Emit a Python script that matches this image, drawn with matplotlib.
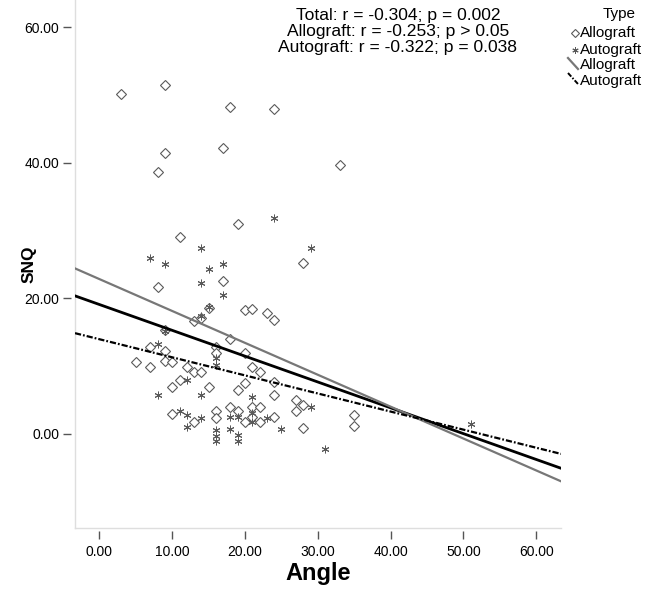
"""Scatter of SNQ against graft angle, split by graft type, with fit lines."""

import matplotlib
matplotlib.use("Agg")
import matplotlib.pyplot as plt
import numpy as np
from matplotlib.lines import Line2D

plt.rcParams["font.family"] = ["Liberation Sans", "DejaVu Sans"]

# values
allo_angle = [3, 9, 18, 24, 9, 17, 8, 33, 19, 11, 28, 8, 17, 15, 20, 21, 23, 24,
              13, 14, 9, 18, 7, 9, 16, 16, 20, 5, 7, 9, 10, 12, 13, 14, 21, 22,
              11, 10, 15, 20, 19, 24, 24, 27, 28, 27, 10, 13, 16, 16, 18, 19, 20,
              21, 21, 22, 22, 24, 28, 35, 35]
allo_snq = [50.1, 51.4, 48.2, 47.9, 41.5, 42.1, 38.6, 39.7, 31.0, 29.1, 25.2, 21.6,
            22.6, 18.6, 18.2, 18.4, 17.8, 16.8, 16.7, 17.1, 15.3, 14.0, 12.8, 12.2,
            12.8, 11.9, 11.9, 10.6, 9.8, 10.8, 10.6, 9.8, 9.1, 9.1, 9.8, 9.1, 8.0,
            6.9, 6.9, 7.5, 6.4, 7.6, 5.75, 5.0, 4.3, 3.3, 2.9, 1.7, 3.4, 2.3, 3.9,
            3.4, 1.8, 3.9, 2.55, 3.9, 1.8, 2.55, 0.8, 2.7, 1.1]

auto_angle = [24, 29, 14, 7, 9, 17, 15, 14, 17, 15, 14, 9, 8, 16, 16, 12, 8, 14,
              21, 11, 12, 12, 14, 16, 16, 16, 18, 18, 19, 19, 19, 21, 21, 23, 25,
              29, 31, 51]
auto_snq = [31.9, 27.4, 27.4, 25.9, 25.0, 25.1, 24.3, 22.3, 20.5, 18.7, 17.4, 15.1,
            13.3, 11.2, 10.2, 8.0, 5.65, 5.75, 5.5, 3.4, 2.7, 1.0, 2.3, 0.6, -0.4,
            -1.0, 2.55, 0.75, 2.55, -0.25, -1.0, 3.0, 1.8, 2.3, 0.75, 4.0, -2.2, 1.5]

fit_names = ["Total", "Allograft", "Autograft"]
fit_intercepts = [19.07, 22.82, 13.95]
fit_slopes = [-0.381, -0.4705, -0.2668]

stats_lines = [
    "Total: r = -0.304; p = 0.002",
    "Allograft: r = -0.253; p > 0.05",
    "Autograft: r = -0.322; p = 0.038",
]

x_ticks = [0, 10, 20, 30, 40, 50, 60]
y_ticks = [0, 20, 40, 60]

W, H = 660, 590
fig = plt.figure(figsize=(W / 100, H / 100), dpi=100)
ax = fig.add_axes([75 / W, 62 / H, 486 / W, 528 / H])
ax.set_xlim(-3.36, 63.4)
ax.set_ylim(-13.9, 64.0)

mark_col = "#5a5a5a"
ax.plot(allo_angle, allo_snq, linestyle="none", marker="D", ms=4.8,
        mfc="white", mec=mark_col, mew=0.8, zorder=3)
ax.plot(auto_angle, auto_snq, linestyle="none", marker=(6, 2, 0), ms=5.5,
        color=mark_col, mew=0.7, zorder=3)

# fit lines across the full x range
line_styles = {
    "Total": dict(color="black", lw=2.0, linestyle="-"),
    "Allograft": dict(color="#777777", lw=1.6, linestyle="-"),
    "Autograft": dict(color="black", lw=1.6, linestyle=(0, (2.8, 0.9, 0.8, 0.9))),
}
xs = np.array(ax.get_xlim())
for name, b0, b1 in zip(fit_names, fit_intercepts, fit_slopes):
    ax.plot(xs, b0 + b1 * xs, zorder=4, **line_styles[name])

# SPSS-like axes: faint frame, ticks set apart from it
for side in ["top", "right", "left", "bottom"]:
    ax.spines[side].set_visible(False)
ax.spines["left"].set_position(("outward", 3))
ax.spines["bottom"].set_position(("outward", 2))
ax.plot([0, 0], [0, 1], transform=ax.transAxes, color="#dedede", lw=1, clip_on=False)
ax.plot([0, 1], [0, 0], transform=ax.transAxes, color="#dedede", lw=1, clip_on=False)

ax.set_xticks(x_ticks)
ax.set_yticks(y_ticks)
ax.set_xticklabels([f"{t:.2f}" for t in x_ticks])
ax.set_yticklabels([f"{t:.2f}" for t in y_ticks])
ax.tick_params(length=6, width=1, color="#555555", labelsize=10, pad=2.5)
ax.tick_params(axis="x", pad=4)

ax.set_xlabel("Angle", fontsize=17, fontweight="bold")
ax.xaxis.set_label_coords(0.5, -0.087)
ax.xaxis.label.set_va("center")
ax.set_ylabel("SNQ", fontsize=12.5, fontweight="bold")
ax.yaxis.set_label_coords(-0.095, 0.5)
ax.yaxis.label.set_va("center")

fig.text(398 / W, 1 - 31.5 / H, "\n".join(stats_lines), ha="center", va="center",
         fontsize=12.6, linespacing=1.07)

# legend drawn by hand to get the slanted line keys
def fx(px):
    return px / W


def fy(py):
    return 1 - py / H


fig.text(fx(619), fy(14), "Type", ha="center", va="center", fontsize=11)
fig.add_artist(Line2D([fx(575)], [fy(33)], marker="D", ms=4, mfc="white",
                      mec=mark_col, mew=0.8, linestyle="none"))
fig.add_artist(Line2D([fx(575)], [fy(50)], marker=(6, 2, 0), ms=4.5,
                      color=mark_col, mew=0.7, linestyle="none"))
fig.add_artist(Line2D([fx(568), fx(578)], [fy(58), fy(69)],
                      **line_styles["Allograft"]))
fig.add_artist(Line2D([fx(568), fx(578)], [fy(73), fy(84)], color="black",
                      lw=1.4, linestyle=(0, (2.5, 0.9, 0.8, 0.9))))
legend_labels = ["Allograft", "Autograft", "Allograft", "Autograft"]
for lab, py in zip(legend_labels, [33, 50, 65, 81]):
    fig.text(fx(580), fy(py), lab, ha="left", va="center", fontsize=11)

fig.savefig("out.png", dpi=100)
